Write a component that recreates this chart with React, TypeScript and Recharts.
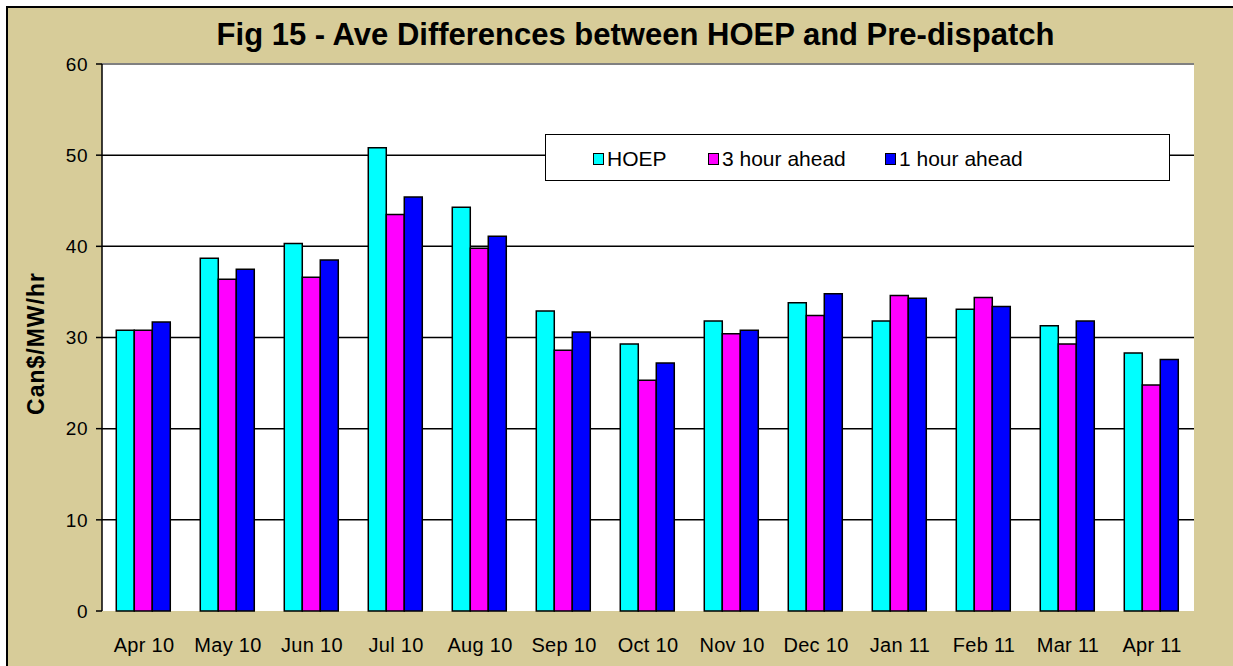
import React from 'react'
import {
  BarChart,
  Bar,
  XAxis,
  YAxis,
  CartesianGrid,
  Legend,
  ReferenceLine,
} from 'recharts'

const months = ['Apr 10', 'May 10', 'Jun 10', 'Jul 10', 'Aug 10', 'Sep 10', 'Oct 10', 'Nov 10', 'Dec 10', 'Jan 11', 'Feb 11', 'Mar 11', 'Apr 11']
const hoep = [30.8, 38.7, 40.3, 50.8, 44.3, 32.9, 29.3, 31.8, 33.8, 31.8, 33.1, 31.3, 28.3]
const threeHour = [30.8, 36.4, 36.6, 43.5, 39.8, 28.6, 25.3, 30.4, 32.4, 34.6, 34.4, 29.3, 24.8]
const oneHour = [31.7, 37.5, 38.5, 45.4, 41.1, 30.6, 27.2, 30.8, 34.8, 34.3, 33.4, 31.8, 27.6]
const yTicks = [0, 10, 20, 30, 40, 50, 60]
const edgeTicks = [0, 1, 2, 3, 4, 5, 6, 7, 8, 9, 10, 11, 12, 13]

const series = [
  { key: 'hoep', name: 'HOEP', color: '#00FFFF' },
  { key: 'three', name: '3 hour ahead', color: '#FF00FF' },
  { key: 'one', name: '1 hour ahead', color: '#0000FF' },
]

const data = months.map((m, i) => ({
  mes: m,
  hoep: hoep[i],
  three: threeHour[i],
  one: oneHour[i],
}))

const FONT = 'Arial, "Liberation Sans", sans-serif'

function LegendBox() {
  const offsets = [47, 162, 339]
  return (
    <div
      style={{
        position: 'relative',
        width: 623,
        height: 45,
        background: '#fff',
        border: '1.5px solid #000',
        fontFamily: FONT,
        fontSize: 21,
      }}
    >
      {series.map((s, i) => (
        <div
          key={s.key}
          style={{ position: 'absolute', left: offsets[i], top: 12, display: 'flex', alignItems: 'center' }}
        >
          <span
            style={{
              display: 'inline-block',
              width: 9,
              height: 10,
              background: s.color,
              border: '1.5px solid #000',
              marginRight: 3,
            }}
          />
          <span>{s.name}</span>
        </div>
      ))}
    </div>
  )
}

export default function App() {
  return (
    <div
      style={{
        position: 'absolute',
        left: 0,
        top: 0,
        width: 1233,
        height: 666,
        overflow: 'hidden',
        background: '#fff',
      }}
    >
      <div
        style={{
          position: 'absolute',
          left: 6,
          top: 6,
          width: 1260,
          height: 700,
          background: '#D7CC99',
          borderTop: '2.5px solid #000',
          borderLeft: '2px solid #000',
        }}
      />
      <div
        style={{
          position: 'absolute',
          left: 0,
          top: 17,
          width: 1271,
          textAlign: 'center',
          fontFamily: FONT,
          fontWeight: 'bold',
          fontSize: 31,
        }}
      >
        Fig 15 - Ave Differences between HOEP and Pre-dispatch
      </div>
      <div style={{ position: 'absolute', left: 0, top: 0 }}>
        <BarChart
          width={1233}
          height={666}
          data={data}
          margin={{ top: 64, right: 39, left: 30, bottom: 0 }}
          barCategoryGap="17%"
          barGap={0}
        >
          <CartesianGrid vertical={false} stroke="#000" strokeWidth={1.5} fill="#fff" horizontalValues={[10, 20, 30, 40, 50]} />
          <XAxis
            xAxisId="edges"
            type="number"
            dataKey="idx"
            domain={[0, 13]}
            ticks={edgeTicks}
            tick={{ fill: 'transparent', fontSize: 1 }}
            height={0}
            axisLine={{ stroke: '#000', strokeWidth: 1.5 }}
            tickLine={{ stroke: '#000', strokeWidth: 1.5 }}
            tickSize={5}
          />
          <XAxis
            dataKey="mes"
            height={55}
            axisLine={false}
            tickLine={false}
            interval={0}
            tick={{ fill: '#000', fontSize: 20, fontFamily: FONT, letterSpacing: 0.3 }}
            tickMargin={21}
          />
          <YAxis
            width={72}
            domain={[0, 60]}
            ticks={yTicks}
            interval={0}
            axisLine={{ stroke: '#000', strokeWidth: 1.5 }}
            tickLine={{ stroke: '#000', strokeWidth: 1.5 }}
            tickSize={6}
            tickMargin={8}
            tick={{ fill: '#000', fontSize: 19, fontFamily: FONT, letterSpacing: 0.5 }}
            label={{
              value: 'Can$/MW/hr',
              angle: -90,
              position: 'insideLeft',
              offset: 6,
              dy: 6,
              style: { fontFamily: FONT, fontWeight: 'bold', fontSize: 23, letterSpacing: 1, fill: '#000', textAnchor: 'middle' },
            }}
          />
          <YAxis
            yAxisId="right"
            orientation="right"
            width={0}
            domain={[0, 60]}
            tick={false}
            tickLine={false}
            axisLine={{ stroke: '#808080', strokeWidth: 2 }}
          />
          <ReferenceLine y={60} stroke="#808080" strokeWidth={2} />
          <Legend
            layout="horizontal"
            verticalAlign="middle"
            align="center"
            content={() => <LegendBox />}
            wrapperStyle={{ position: 'absolute', left: 545, top: 134, width: 626, height: 48 }}
          />
          {series.map((s) => (
            <Bar
              key={s.key}
              dataKey={s.key}
              name={s.name}
              fill={s.color}
              stroke="#000"
              strokeWidth={1.5}
              isAnimationActive={false}
            />
          ))}
        </BarChart>
      </div>
    </div>
  )
}
